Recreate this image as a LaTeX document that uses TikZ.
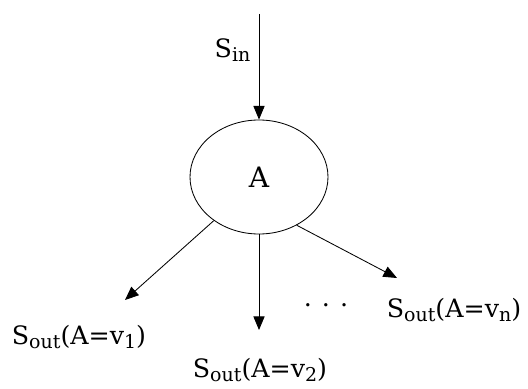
\documentclass[tikz,border=0pt]{standalone}
\usepackage{fontspec}
\setmainfont{DejaVu Serif}
\usetikzlibrary{positioning,arrows.meta,shapes.geometric}
\tikzset{
  attr/.style={ellipse, draw, line width=0.6pt, minimum width=3.45cm, minimum height=2.85cm,
               inner sep=0pt, font=\fontsize{20}{24}\selectfont},
  lbl/.style={font=\fontsize{18}{22}\selectfont, inner sep=1pt},
  flow/.style={-{Triangle[length=3.4mm,width=2.8mm]}, line width=0.6pt, black}
}
\newcommand{\sub}[1]{\raisebox{-0.3ex}{\fontsize{13.5}{15}\selectfont #1}}
\begin{document}
\begin{tikzpicture}
\useasboundingbox (0,0) rectangle (13.2,9.7);
\node (a) [attr] at (6.475,5.275) {A};
\coordinate (in) at (6.475,9.35);
\coordinate (e1) at (3.125,2.2);
\coordinate (e2) at (6.475,1.45);
\coordinate (en) at (9.925,2.75);
\node (sin) [lbl, anchor=east] at (6.3,8.45) {S\sub{in}};
\node (s1) [lbl] at (1.975,1.275) {S\sub{out}(A=v\sub{1})};
\node (s2) [lbl] at (6.5,0.45) {S\sub{out}(A=v\sub{2})};
\node (sn) [lbl] at (11.35,1.95) {S\sub{out}(A=v\sub{n})};
\node (dots) [lbl] at (8.15,2.075) {.\hspace{0.25cm}.\hspace{0.25cm}.};
\draw[flow] (in) -- (a.north);
\draw[flow] (a.-136) -- (e1);
\draw[flow] (a.south) -- (e2);
\draw[flow] (a.-52) -- (en);
\end{tikzpicture}
\end{document}
